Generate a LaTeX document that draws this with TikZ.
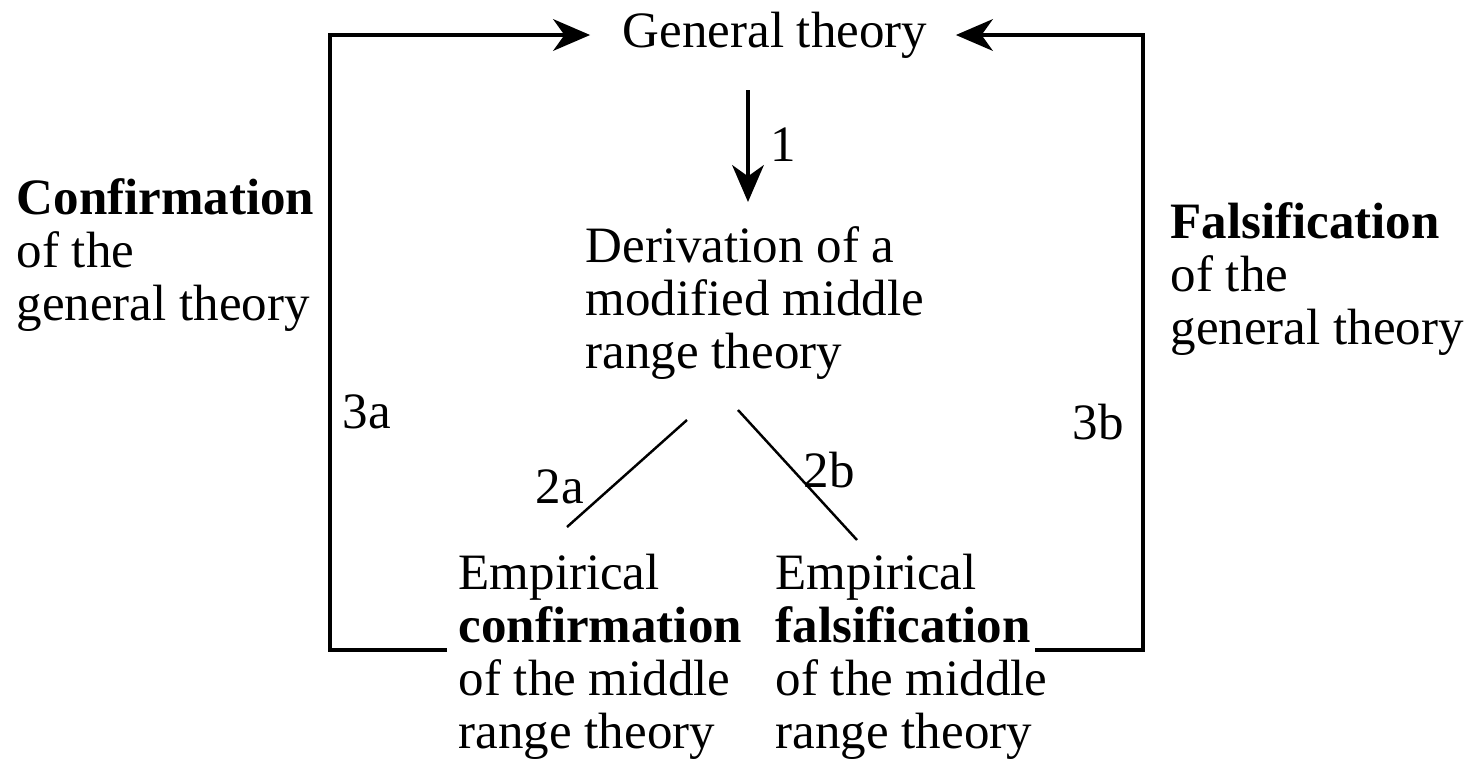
\documentclass[tikz,border=0pt]{standalone}
\usepackage{fontspec}
\setmainfont{Liberation Serif}
\usetikzlibrary{arrows.meta,positioning,calc}
\tikzset{
    txt/.style={inner sep=0pt, align=left, anchor=west, font=\fontsize{14.5}{15.1}\selectfont},
    frame/.style={line width=1pt},
    arr/.style={frame, -{Stealth[length=10.5pt, width=9pt, inset=3.2pt]}},
    branch/.style={line width=0.7pt}
}
\begin{document}
\begin{tikzpicture}[x=0.01cm, y=-0.01cm]
    \useasboundingbox (0,0) rectangle (1468,763);
    % Top
    \node[txt, anchor=center] (gt) at (775,35) {General theory};
    \node[txt] (deriv) at (585,303) {Derivation of a\\modified middle\\range theory};
    % Empirical outcomes
    \node[txt] (econf) at (458,657) {Empirical\\\textbf{confirmation}\\of the middle\\range theory};
    \node[txt] (efals) at (775,657) {Empirical\\\textbf{falsification}\\of the middle\\range theory};
    % Side texts
    \node[txt] (conf) at (16,255) {\textbf{Confirmation}\\of the\\general theory};
    \node[txt] (fals) at (1170,279) {\textbf{Falsification}\\of the\\general theory};
    % Step 1
    \coordinate (s1a) at (748,90);
    \coordinate (s1b) at (748,202);
    \draw[arr] (s1a) -- (s1b);
    \node[txt] (l1) at (770,145) {1};
    % Steps 2a and 2b
    \coordinate (a1) at (687,420); \coordinate (a2) at (567,527);
    \coordinate (b1) at (738,410); \coordinate (b2) at (857,540);
    \draw[branch] (a1) -- (a2);
    \draw[branch] (b1) -- (b2);
    \node[txt] (l2a) at (535,487) {2a};
    \node[txt] (l2b) at (803,470) {2b};
    % Feedback loops
    \coordinate (cl) at (330,650);
    \coordinate (cr) at (1143,650);
    \draw[arr] ($(econf.west)+(-11,-7)$) -- (cl) |- ($(gt.west)+(-32,0)$);
    \draw[arr] ($(efals.west)+(260,-7)$) -- (cr) |- ($(gt.east)+(28,0)$);
    \node[txt] (l3a) at (342,412) {3a};
    \node[txt] (l3b) at (1072,422) {3b};
\end{tikzpicture}
\end{document}
